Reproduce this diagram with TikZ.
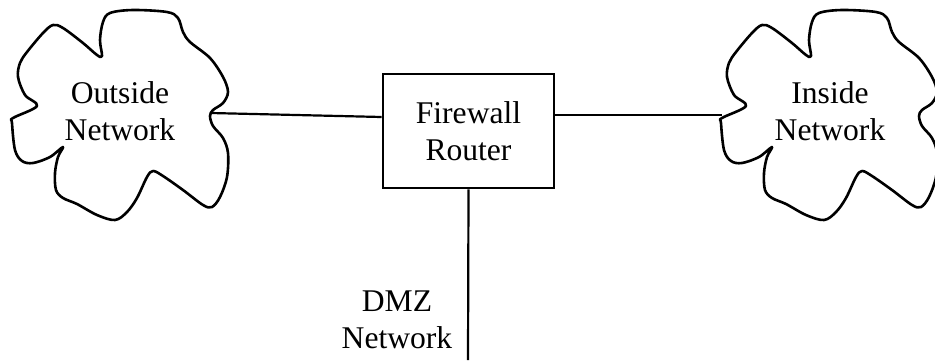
\documentclass[tikz,border=0pt]{standalone}
\usepackage{fontspec}
\setmainfont{Liberation Serif}
\begin{document}
\begin{tikzpicture}[x=0.5pt,y=-0.5pt,
  lbl/.style={align=center,anchor=base,inner sep=0pt,font=\fontsize{15.8}{18.5}\selectfont},
  wire/.style={line width=1.1pt},
  boxstyle/.style={draw,line width=1.3pt,minimum width=85.5pt,minimum height=57pt,inner sep=0pt,align=center,font=\fontsize{15.8}{18.5}\selectfont},
  cloudline/.style={line width=1.3pt,line join=round},
  netcloud/.pic={\draw[cloudline] plot[smooth cycle,tension=0.55] coordinates {
    (210,116) (213,126) (223,138) (228,153) (227,177) (220,197) (212,207) (203,205)
    (183,190) (163,176) (153,171) (147,177) (137,198) (127,212) (115,220) (97,215)
    (77,204) (63,198) (56,190) (55,173) (58,157) (63,147) (50,157) (33,163) (22,161)
    (15,150) (12,123) (13,118) (37,106) (25,95) (18,77) (20,63) (27,52) (43,33)
    (53,25) (63,28) (83,43) (97,55) (102,56) (100,40) (103,22) (110,13) (133,10)
    (167,12) (178,18) (183,32) (190,42) (210,58) (223,77) (228,92) (223,103) (213,110)};}
]
\useasboundingbox (0,0) rectangle (935,360);
\pic at (0,0) {netcloud};
\pic at (709,0) {netcloud};
\node[lbl] (outside) at (120,140) {Outside\\Network};
\node[lbl] (inside) at (830,140) {Inside\\Network};
\node[boxstyle] (fw) at (468.5,131) {Firewall\\Router};
\node[lbl] (dmz) at (397,348) {DMZ\\Network};
\coordinate (outR) at (211,113);
\coordinate (inL) at (722,115);
\coordinate (dmzEnd) at (468,360);
\draw[wire] (outR) -- ([yshift=7pt]fw.west);
\draw[wire] ([yshift=8pt]fw.east) -- (inL);
\draw[wire] (fw.south) -- (dmzEnd);
\end{tikzpicture}
\end{document}
